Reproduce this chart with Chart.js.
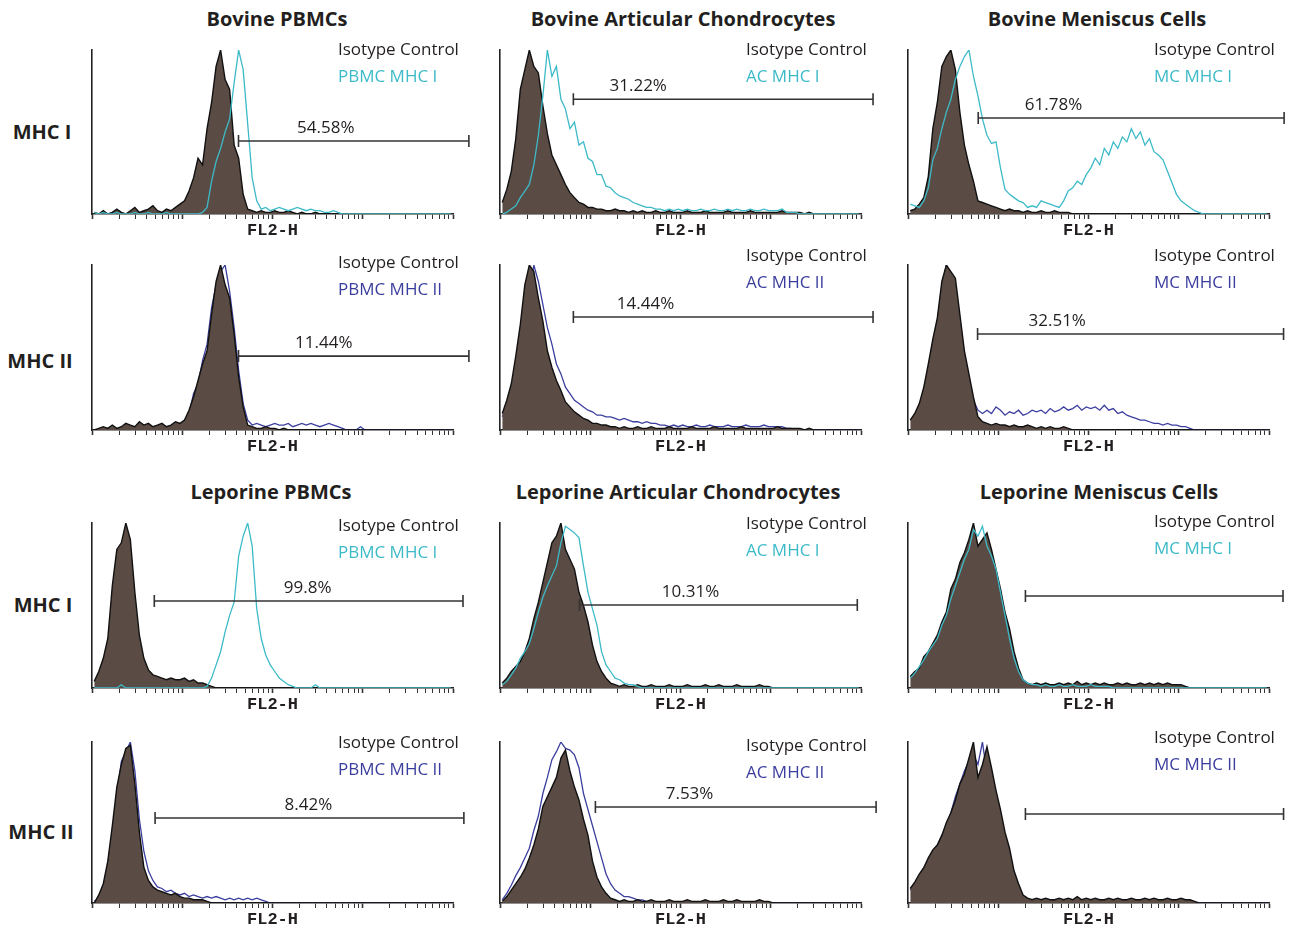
<!DOCTYPE html>
<html>
<head>
<meta charset="utf-8">
<script src="https://cdn.jsdelivr.net/npm/chart.js@4.4.1/dist/chart.umd.min.js"></script>
<style>
  body { margin: 0; width: 1289px; height: 928px; background: #fff; position: relative; overflow: hidden;
         font-family: "Open Sans", sans-serif; color: #231f20; }
  canvas { position: absolute; }
  .lbl { position: absolute; transform: translate(-50%, -50%); font-weight: 700; white-space: nowrap; }
  .title { font-size: 20px; }
  .row { font-size: 20px; }
</style>
</head>
<body>
<script>
// FL2-H histograms, 80 channels over 4 log decades, counts scaled to peak = 100
const bovPbmcIsoI = [1,0,2,0,1,3,1,0,2,4,1,2,3,5,2,1,3,2,4,6,
  8,14,22,34,30,52,68,90,100,82,76,42,34,12,3,2,1,2,1,1,
  2,1,1,2,1,0,1,0,0,1,0,0,0,0,0,0,0,0,0,0,
  0,0,0,0,0,0,0,0,0,0,0,0,0,0,0,0,0,0,0,0];
const bovPbmcMhcI = [1,0,1,0,0,1,0,0,0,1,0,0,1,0,0,0,1,0,0,0,
  0,0,0,0,1,4,20,32,40,50,58,80,100,88,55,22,8,3,4,2,
  3,4,3,2,3,4,3,2,3,2,2,1,1,2,1,0,0,0,0,0,
  0,0,0,0,0,0,0,0,0,0,0,0,0,0,0,0,0,0,0,0];
const bovAcIsoI = [7,15,26,46,76,88,100,90,86,66,49,36,30,24,18,13,10,7,6,4,
  4,3,3,2,2,3,2,2,1,2,1,2,1,1,2,1,1,2,1,1,
  1,2,1,1,1,2,1,1,1,1,2,1,1,1,1,2,1,1,1,1,
  1,1,2,1,1,1,1,0,1,0,0,0,0,0,0,0,0,0,0,0];
const bovAcMhcI = [0,1,3,5,10,14,18,30,48,72,100,84,90,70,64,52,56,42,44,34,
  32,24,24,17,16,13,11,10,9,7,6,5,4,4,3,3,2,3,2,3,
  2,3,2,2,3,2,2,3,2,2,3,2,3,2,2,3,2,2,3,2,
  2,2,3,1,1,1,0,0,0,0,0,0,0,0,0,0,0,0,0,0];
const bovMcIsoI = [2,3,6,10,23,52,68,90,96,100,88,62,42,30,20,8,7,6,5,4,
  3,2,3,2,2,1,2,1,1,2,1,1,2,1,1,1,0,0,0,0,
  0,0,0,0,0,0,0,0,0,0,0,0,0,0,0,0,0,0,0,0,
  0,0,0,0,0,0,0,0,0,0,0,0,0,0,0,0,0,0,0,0];
const bovMcMhcI = [6,5,4,8,16,33,40,52,62,70,82,90,96,100,84,72,58,48,43,44,
  28,15,12,10,8,7,4,5,4,8,7,6,5,4,8,14,16,20,18,24,
  28,34,30,40,36,44,40,47,44,52,46,50,42,46,38,36,33,26,19,12,
  8,6,4,2,1,0,0,0,0,0,0,0,0,0,0,0,0,0,0,0];

const bovPbmcIsoII = [0,1,2,1,3,1,2,4,3,2,5,3,4,2,3,4,2,3,5,4,
  6,12,20,30,40,48,70,90,100,88,80,58,32,14,3,2,1,1,2,1,
  1,0,1,0,0,0,0,0,0,0,0,0,0,0,0,0,0,0,0,0,
  0,0,0,0,0,0,0,0,0,0,0,0,0,0,0,0,0,0,0,0];
const bovPbmcMhcII = [0,0,0,1,0,1,0,1,0,1,2,1,2,1,2,3,2,2,3,3,
  4,10,22,28,42,52,74,88,96,100,84,62,36,16,6,3,4,3,2,3,
  4,3,3,4,2,3,4,3,4,3,2,3,4,3,2,1,0,0,0,2,
  0,0,0,0,0,0,0,0,0,0,0,0,0,0,0,0,0,0,0,0];
const bovAcIsoII = [10,18,28,45,64,88,100,96,80,66,48,38,30,24,17,14,11,9,7,6,
  4,4,3,3,2,2,1,2,1,1,2,1,1,2,1,1,1,2,1,1,
  1,1,2,1,1,1,1,2,1,1,1,1,1,2,1,1,1,1,1,1,
  1,2,1,1,1,1,1,0,1,0,0,0,0,0,0,0,0,0,0,0];
const bovAcMhcII = [8,14,24,36,52,68,82,100,90,76,62,52,40,34,26,22,18,16,14,12,
  11,9,9,8,8,7,6,7,6,5,5,4,5,4,4,3,3,2,3,2,
  3,2,2,3,2,2,3,2,2,2,3,2,2,2,3,2,2,2,3,2,
  2,2,2,1,1,0,0,0,0,0,0,0,0,0,0,0,0,0,0,0];
const bovMcIsoII = [6,10,16,26,40,55,68,90,100,96,92,70,48,34,20,8,5,4,3,4,
  3,3,2,3,2,2,3,2,1,2,1,2,1,1,2,1,0,0,0,0,
  0,0,0,0,0,0,0,0,0,0,0,0,0,0,0,0,0,0,0,0,
  0,0,0,0,0,0,0,0,0,0,0,0,0,0,0,0,0,0,0,0];
const bovMcMhcII = [6,8,14,24,36,52,66,86,100,92,86,64,46,30,18,12,10,12,10,14,
  12,9,11,10,12,9,10,12,11,12,10,13,11,12,14,12,13,15,12,14,
  13,14,12,15,12,13,10,11,9,8,7,6,6,5,4,4,3,4,3,3,
  2,2,1,0,0,0,0,0,0,0,0,0,0,0,0,0,0,0,0,0];

const lepPbmcIsoI = [4,10,18,30,62,84,88,100,90,58,32,18,11,8,7,6,5,6,5,5,
  6,4,5,3,3,2,1,0,0,0,0,0,0,0,0,0,0,0,0,0,
  0,0,0,0,0,0,0,0,0,0,0,0,0,0,0,0,0,0,0,0,
  0,0,0,0,0,0,0,0,0,0,0,0,0,0,0,0,0,0,0,0];
const lepPbmcMhcI = [0,0,0,0,0,0,2,0,0,0,0,0,0,0,0,0,0,0,0,0,
  0,0,0,0,0,1,6,14,22,34,44,52,80,92,100,86,48,30,20,14,
  10,6,4,2,1,0,0,0,0,2,0,0,0,0,0,0,0,0,0,0,
  0,0,0,0,0,0,0,0,0,0,0,0,0,0,0,0,0,0,0,0];
const lepAcIsoI = [3,6,10,13,16,22,30,42,52,64,76,88,92,100,84,78,72,58,50,40,
  26,16,10,6,3,2,1,2,1,1,2,1,1,2,1,1,1,2,1,1,
  1,2,1,1,1,2,1,1,2,1,1,1,2,1,1,1,1,2,1,1,
  0,0,0,0,0,0,0,0,0,0,0,0,0,0,0,0,0,0,0,0];
const lepAcMhcI = [2,4,8,12,18,22,27,36,46,55,62,68,74,88,98,96,94,91,74,58,
  48,38,22,14,10,6,5,3,2,2,1,0,0,0,0,0,0,0,0,0,
  0,0,0,0,0,0,0,0,0,0,0,0,0,0,0,0,0,0,0,0,
  0,0,0,0,0,0,0,0,0,0,0,0,0,0,0,0,0,0,0,0];
const lepMcIsoI = [7,10,12,19,22,27,32,40,46,60,66,76,82,90,100,86,90,94,84,72,
  60,46,36,22,12,5,3,2,3,2,3,2,2,3,2,3,2,4,2,3,
  2,3,2,3,2,2,3,2,3,2,2,3,2,3,2,3,2,3,2,2,
  2,1,0,0,0,0,0,0,0,0,0,0,0,0,0,0,0,0,0,0];
const lepMcMhcI = [6,9,13,17,22,26,30,38,44,54,62,70,78,84,96,92,98,86,80,72,
  58,44,30,18,10,5,3,2,2,1,2,1,1,2,1,1,2,1,1,1,
  2,1,1,1,1,0,0,0,0,0,0,0,0,0,0,0,0,0,0,0,
  0,0,0,0,0,0,0,0,0,0,0,0,0,0,0,0,0,0,0,0];

const lepPbmcIsoII = [0,5,12,26,48,72,86,96,98,74,44,22,14,10,8,7,6,5,6,4,
  3,3,2,2,2,1,0,0,0,0,0,0,0,0,0,0,0,0,0,0,
  0,0,0,0,0,0,0,0,0,0,0,0,0,0,0,0,0,0,0,0,
  0,0,0,0,0,0,0,0,0,0,0,0,0,0,0,0,0,0,0,0];
const lepPbmcMhcII = [1,3,10,24,44,66,88,94,100,82,52,32,20,14,10,9,7,8,6,5,
  6,4,5,4,3,4,3,4,3,2,3,2,3,2,3,2,3,2,1,0,
  0,0,0,0,0,0,0,0,0,0,0,0,0,0,0,0,0,0,0,0,
  0,0,0,0,0,0,0,0,0,0,0,0,0,0,0,0,0,0,0,0];
const lepAcIsoII = [1,4,8,12,16,21,28,36,46,60,66,72,78,90,95,82,72,64,52,42,
  26,16,10,6,3,2,1,2,1,1,2,1,1,2,1,1,1,2,1,1,
  1,2,1,1,1,2,1,1,1,2,1,1,2,1,1,1,1,2,1,1,
  0,0,0,0,0,0,0,0,0,0,0,0,0,0,0,0,0,0,0,0];
const lepAcMhcII = [2,6,11,17,22,28,34,45,54,68,78,89,94,100,96,95,92,84,68,58,
  48,38,28,18,12,8,6,4,4,3,2,2,1,0,0,0,0,0,0,0,
  0,0,0,0,0,0,0,0,0,0,0,0,0,0,0,0,0,0,0,0,
  0,0,0,0,0,0,0,0,0,0,0,0,0,0,0,0,0,0,0,0];
const lepMcIsoII = [9,13,18,22,28,33,36,42,50,56,64,74,80,90,100,78,86,97,84,70,
  58,44,34,20,12,5,3,2,3,2,3,2,2,3,2,3,2,4,2,3,
  2,3,2,2,3,2,3,2,2,3,2,2,3,2,3,2,2,3,2,2,
  3,2,2,1,0,0,0,0,0,0,0,0,0,0,0,0,0,0,0,0];
const lepMcMhcII = [8,11,17,22,25,31,36,42,48,56,66,74,82,88,92,86,100,80,72,60,
  48,34,22,12,5,2,2,1,1,1,2,1,1,1,1,1,1,1,0,1,
  1,0,0,0,0,0,0,0,0,0,0,0,0,0,0,0,0,0,0,0,
  0,0,0,0,0,0,0,0,0,0,0,0,0,0,0,0,0,0,0,0];

// panels in reading order: rows (bovine I, bovine II, leporine I, leporine II) x columns (PBMC, AC, MC)
const isoSeries = [bovPbmcIsoI, bovAcIsoI, bovMcIsoI, bovPbmcIsoII, bovAcIsoII, bovMcIsoII,
                   lepPbmcIsoI, lepAcIsoI, lepMcIsoI, lepPbmcIsoII, lepAcIsoII, lepMcIsoII];
const stainSeries = [bovPbmcMhcI, bovAcMhcI, bovMcMhcI, bovPbmcMhcII, bovAcMhcII, bovMcMhcII,
                     lepPbmcMhcI, lepAcMhcI, lepMcMhcI, lepPbmcMhcII, lepAcMhcII, lepMcMhcII];
const stainNames = ['PBMC MHC I', 'AC MHC I', 'MC MHC I', 'PBMC MHC II', 'AC MHC II', 'MC MHC II',
                    'PBMC MHC I', 'AC MHC I', 'MC MHC I', 'PBMC MHC II', 'AC MHC II', 'MC MHC II'];
const gateFrom  = [42, 6.5, 6.0, 42, 6.5, 5.9, 4.9, 7.6, 20, 5.0, 11.4, 20];
const gateTo    = [15000, 13600, 14700, 15000, 13600, 14500, 12900, 9100, 14300, 13200, 14700, 14500];
const gateLevel = [44.5, 70, 58.5, 44.8, 68.5, 58.2, 52.7, 50.3, 55.8, 52.8, 59.6, 55.3];
const gatePct   = ['54.58%', '31.22%', '61.78%', '11.44%', '14.44%', '32.51%', '99.8%', '10.31%', '', '8.42%', '7.53%', ''];
const pctAt     = [389, 34, 41, 370, 41, 45, 245, 129, null, 250, 126, null];

const colTitles = ['Bovine PBMCs', 'Bovine Articular Chondrocytes', 'Bovine Meniscus Cells',
                   'Leporine PBMCs', 'Leporine Articular Chondrocytes', 'Leporine Meniscus Cells'];
const rowTitles = ['MHC I', 'MHC II', 'MHC I', 'MHC II'];

// layout (page pixels)
const colLeft = [92, 500, 908];
const rowTop = [50, 265, 523, 742];
const rowH = [164, 165, 165, 161];
const plotW = 361;
const padL = 12, padT = 16, padB = 2, axisH = 27;
const padR = [34, 26, 19];
const titlePos = [[277, 18], [683, 18], [1097, 18], [271, 491], [678, 491], [1099, 491]];
const rowPos = [[42, 131], [40, 360], [43, 604], [41, 831]];
const legendDy = [0, 0, 0, -2, -9, -9, 3, 1, -1, 1, 4, -4];

const TEAL = '#3dbac8';
const BLUE = '#3b3e9e';
const FILL = '#5a4b44';
const INK = '#231f20';
const GATE = '#333';

const channels = Array.from({ length: 80 }, (_, i) => 10 ** ((i + 0.5) / 20));
const tickValues = [];
for (let d = 0; d < 4; d++) for (let m = 1; m < 10; m++) tickValues.push(m * 10 ** d);
tickValues.push(10000);

colTitles.forEach((t, i) => {
  const el = document.createElement('div');
  el.className = 'lbl title';
  el.textContent = t;
  el.style.left = titlePos[i][0] + 'px';
  el.style.top = titlePos[i][1] + 'px';
  document.body.appendChild(el);
});
rowTitles.forEach((t, i) => {
  const el = document.createElement('div');
  el.className = 'lbl row';
  el.textContent = t;
  el.style.left = rowPos[i][0] + 'px';
  el.style.top = rowPos[i][1] + 'px';
  document.body.appendChild(el);
});

// legend text, gate end caps and gate percentage
const panelText = {
  id: 'panelText',
  afterDatasetsDraw(chart, args, o) {
    const { ctx, chartArea, scales: { x, y } } = chart;
    ctx.save();
    const gy = y.getPixelForValue(o.level);
    ctx.strokeStyle = GATE;
    ctx.lineWidth = 1.6;
    ctx.beginPath();
    [o.from, o.to].forEach(v => {
      const gx = x.getPixelForValue(v);
      ctx.moveTo(gx, gy - 6);
      ctx.lineTo(gx, gy + 6);
    });
    ctx.stroke();

    ctx.font = '17px "Open Sans"';
    ctx.textBaseline = 'middle';
    ctx.fillStyle = INK;
    ctx.fillText('Isotype Control', chartArea.left + 246, chartArea.top + o.dy);
    ctx.fillStyle = o.color;
    ctx.fillText(o.stain, chartArea.left + 246, chartArea.top + o.dy + 27);
    if (o.pct) {
      ctx.textAlign = 'center';
      ctx.fillStyle = INK;
      ctx.fillText(o.pct, x.getPixelForValue(o.at), gy - 13);
    }
    ctx.restore();
  }
};

function toPoints(arr) {
  return arr.map((v, i) => ({ x: channels[i], y: v }));
}

for (let p = 0; p < 12; p++) {
  const r = Math.floor(p / 3), c = p % 3;
  const isMhcI = r % 2 === 0;
  const color = isMhcI ? TEAL : BLUE;

  const canvas = document.createElement('canvas');
  canvas.width = padL + plotW + padR[c];
  canvas.height = padT + rowH[r] + axisH + padB;
  canvas.style.left = (colLeft[c] - padL) + 'px';
  canvas.style.top = (rowTop[r] - padT) + 'px';
  document.body.appendChild(canvas);

  const gate = {
    data: [{ x: gateFrom[p], y: gateLevel[p] }, { x: gateTo[p], y: gateLevel[p] }],
    borderColor: GATE, borderWidth: 1.6, clip: false, pointRadius: 0
  };
  const iso = {
    data: toPoints(isoSeries[p]),
    borderColor: '#111', borderWidth: 1.4, backgroundColor: FILL,
    fill: 'origin', pointRadius: 0, tension: 0
  };
  const stain = {
    data: toPoints(stainSeries[p]),
    borderColor: color, borderWidth: 1.3, fill: false, pointRadius: 0, tension: 0
  };
  // first dataset is drawn on top
  const datasets = isMhcI ? [gate, stain, iso] : [gate, iso, stain];

  new Chart(canvas, {
    type: 'line',
    data: { datasets },
    plugins: [panelText],
    options: {
      responsive: false,
      animation: false,
      events: [],
      layout: { padding: { left: padL, right: padR[c], top: padT, bottom: padB } },
      plugins: {
        legend: { display: false },
        tooltip: { enabled: false },
        panelText: {
          stain: stainNames[p], color, dy: legendDy[p], pct: gatePct[p], at: pctAt[p],
          level: gateLevel[p], from: gateFrom[p], to: gateTo[p]
        }
      },
      scales: {
        x: {
          type: 'logarithmic', min: 1, max: 10000,
          afterBuildTicks: s => { s.ticks = tickValues.map(v => ({ value: v })); },
          afterFit: s => { s.height = axisH; },
          ticks: { display: false },
          grid: {
            drawOnChartArea: false, drawTicks: true, tickLength: 5, tickColor: '#333',
            tickWidth: ctx => (Math.log10(ctx.tick.value) % 1 === 0 ? 1.6 : 1)
          },
          border: { color: '#222', width: 1.6 },
          title: {
            display: true, text: 'FL2-H', color: INK,
            font: { family: '"Liberation Mono", monospace', size: 17, weight: 'bold' },
            padding: { top: 0, bottom: 0 }
          }
        },
        y: {
          min: 0, max: 100,
          afterFit: s => { s.width = 0; },
          ticks: { display: false },
          grid: { display: false },
          border: { color: '#222', width: 1.6 }
        }
      }
    }
  });
}
</script>
</body>
</html>
